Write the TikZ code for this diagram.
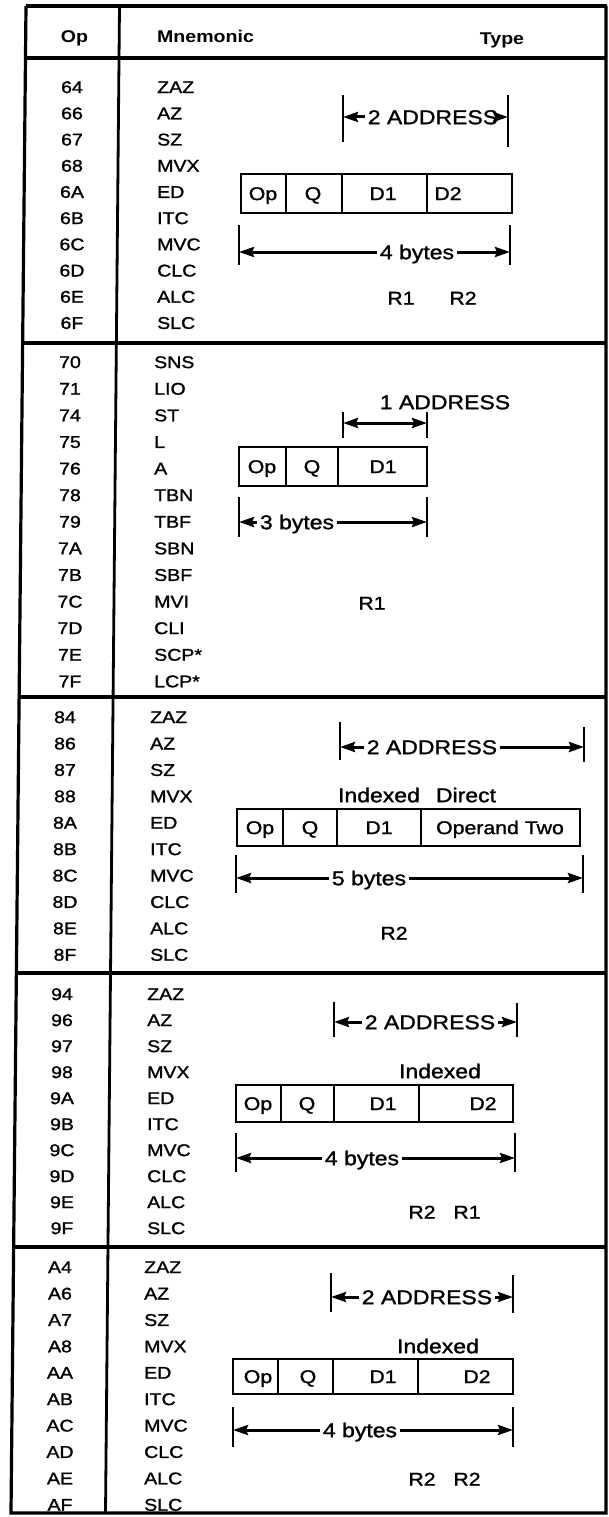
\documentclass[tikz,border=0pt]{standalone}
\usepackage{fontspec}
\setmainfont{Liberation Sans}[FakeStretch=1.15,UprightFeatures={FakeBold=1.3}]
\usetikzlibrary{arrows.meta}

\newcommand{\optabfont}{\fontsize{17}{20}\selectfont}
\newcommand{\dimfont}{\fontsize{20}{24}\selectfont}
\newcommand{\fieldfont}{\fontsize{18.5}{22}\selectfont}

\begin{document}
\begin{tikzpicture}[x=1pt,y=-1pt,
  frame/.style={line width=3.2pt},
  colrule/.style={line width=2.8pt},
  oplbl/.style={font=\optabfont,anchor=base,yshift=-6.1pt,inner sep=0pt},
  mnlbl/.style={font=\optabfont,anchor=base west,yshift=-6.1pt,inner sep=0pt},
  head/.style={font=\optabfont\bfseries,anchor=base,yshift=-6.1pt,inner sep=0pt},
  dimlbl/.style={font=\dimfont,anchor=base,yshift=-7.2pt,inner xsep=3pt,inner ysep=0pt},
  fieldlbl/.style={font=\fieldfont,anchor=base,yshift=-6.6pt,inner sep=0pt},
  reglbl/.style={font=\fieldfont,anchor=base,yshift=-6.6pt,inner sep=0pt},
  fieldbox/.style={line width=2.3pt},
  tickmark/.style={line width=2.2pt},
  dimarrow/.style={line width=3pt,-{Stealth[length=15pt,width=10pt,inset=2pt]}},
  dimboth/.style={line width=3pt,{Stealth[length=15pt,width=10pt,inset=2pt]}-{Stealth[length=15pt,width=10pt,inset=2pt]}}
]
\useasboundingbox (0,0) rectangle (608,1517);

% frame and rules
\draw[frame] (26,6) -- (607,6);
\draw[frame] (26,6) -- (11,1513) -- (606,1513) -- (606,6);
\draw[frame] (25.5,58) -- (606,58);
\draw[frame] (22.6,343) -- (606,343);
\draw[frame] (19.1,697) -- (606,697);
\draw[frame] (16.4,973) -- (606,973);
\draw[frame] (13.6,1247) -- (606,1247);
\draw[colrule] (119.5,6) -- (105.5,1513);

% header
\node[head] (hop) at (74.5,36) {Op};
\node[head,anchor=base west] (hmn) at (157,36) {Mnemonic};
\node[head] (htype) at (502,38) {Type};

% op codes and mnemonics
\foreach \op/\mn [count=\i from 0] in {64/ZAZ,66/AZ,67/SZ,68/MVX,6A/ED,6B/ITC,6C/MVC,6D/CLC,6E/ALC,6F/SLC}{
  \node[oplbl] (op\op) at (72,{87+26.2*\i}) {\op};
  \node[mnlbl] (mn\op) at (157,{87+26.2*\i}) {\mn};
}
\foreach \op/\mn [count=\i from 0] in {70/SNS,71/LIO,74/ST,75/L,76/A,78/TBN,79/TBF,7A/SBN,7B/SBF,7C/MVI,7D/CLI,7E/SCP*,7F/LCP*}{
  \node[oplbl] (op\op) at (70,{362+26.6*\i}) {\op};
  \node[mnlbl] (mn\op) at (154,{362+26.6*\i}) {\mn};
}
\foreach \op/\mn [count=\i from 0] in {84/ZAZ,86/AZ,87/SZ,88/MVX,8A/ED,8B/ITC,8C/MVC,8D/CLC,8E/ALC,8F/SLC}{
  \node[oplbl] (op\op) at (65,{717+26.4*\i}) {\op};
  \node[mnlbl] (mn\op) at (150,{717+26.4*\i}) {\mn};
}
\foreach \op/\mn [count=\i from 0] in {94/ZAZ,96/AZ,97/SZ,98/MVX,9A/ED,9B/ITC,9C/MVC,9D/CLC,9E/ALC,9F/SLC}{
  \node[oplbl] (op\op) at (62,{994+26*\i}) {\op};
  \node[mnlbl] (mn\op) at (147,{994+26*\i}) {\mn};
}
\foreach \op/\mn [count=\i from 0] in {A4/ZAZ,A6/AZ,A7/SZ,A8/MVX,AA/ED,AB/ITC,AC/MVC,AD/CLC,AE/ALC,AF/SLC}{
  \node[oplbl] (op\op) at (60,{1267+26.4*\i}) {\op};
  \node[mnlbl] (mn\op) at (144,{1267+26.4*\i}) {\mn};
}

% type 6x: 2 address, 4 bytes
\draw[tickmark] (343,95) -- (343,142);
\draw[tickmark] (508,95) -- (508,147);
\coordinate (a1l) at (343,117);
\coordinate (a1r) at (508,117);
\node[dimlbl] (addr1) at (433,117) {2 ADDRESS};
\draw[dimarrow] (addr1.west |- a1l) -- (a1l);
\draw[dimarrow] (addr1.east |- a1r) -- (a1r);
\draw[fieldbox] (241,174) rectangle (512,213);
\draw[fieldbox] (286,174) -- (286,213) (342,174) -- (342,213) (427,174) -- (427,213);
\node[fieldlbl] (f1op) at (263,193.5) {Op};
\node[fieldlbl] (f1q) at (313,193.5) {Q};
\node[fieldlbl] (f1da) at (383,193.5) {D1};
\node[fieldlbl] (f1db) at (448,193.5) {D2};
\draw[tickmark] (239,225) -- (239,265);
\draw[tickmark] (510,225) -- (510,265);
\coordinate (b1l) at (239,252);
\coordinate (b1r) at (510,252);
\node[dimlbl] (bytes1) at (417,252) {4 bytes};
\draw[dimarrow] (bytes1.west |- b1l) -- (b1l);
\draw[dimarrow] (bytes1.east |- b1r) -- (b1r);
\node[reglbl] (r1a) at (401,298) {R1};
\node[reglbl] (r1b) at (463,298) {R2};

% type 7x: 1 address, 3 bytes
\node[dimlbl] (addr2) at (445,402) {1 ADDRESS};
\draw[tickmark] (343,412) -- (343,438);
\draw[tickmark] (427,412) -- (427,438);
\coordinate (a2l) at (343,423);
\coordinate (a2r) at (427,423);
\draw[dimboth] (a2l) -- (a2r);
\draw[fieldbox] (239,447) rectangle (427,486);
\draw[fieldbox] (286,447) -- (286,486) (338,447) -- (338,486);
\node[fieldlbl] (f2op) at (262,466.5) {Op};
\node[fieldlbl] (f2q) at (312,466.5) {Q};
\node[fieldlbl] (f2da) at (383,466.5) {D1};
\draw[tickmark] (239,497) -- (239,537);
\draw[tickmark] (427,497) -- (427,537);
\coordinate (b2l) at (239,522);
\coordinate (b2r) at (427,522);
\node[dimlbl] (bytes2) at (297,522) {3 bytes};
\draw[dimarrow] (bytes2.west |- b2l) -- (b2l);
\draw[dimarrow] (bytes2.east |- b2r) -- (b2r);
\node[reglbl] (r2a) at (372,603) {R1};

% type 8x: 2 address, 5 bytes
\draw[tickmark] (340,722) -- (340,760);
\draw[tickmark] (584,727) -- (584,762);
\coordinate (a3l) at (340,747);
\coordinate (a3r) at (584,747);
\node[dimlbl] (addr3) at (432,747) {2 ADDRESS};
\draw[dimarrow] (addr3.west |- a3l) -- (a3l);
\draw[dimarrow] (addr3.east |- a3r) -- (a3r);
\node[dimlbl] (idx3) at (379,795) {Indexed};
\node[dimlbl] (dir3) at (466,795) {Direct};
\draw[fieldbox] (237,809) rectangle (580,846);
\draw[fieldbox] (283,809) -- (283,846) (337,809) -- (337,846) (421,809) -- (421,846);
\node[fieldlbl] (f3op) at (260,827.5) {Op};
\node[fieldlbl] (f3q) at (310,827.5) {Q};
\node[fieldlbl] (f3da) at (379,827.5) {D1};
\node[fieldlbl] (f3two) at (500,827.5) {Operand Two};
\draw[tickmark] (236,855) -- (236,893);
\draw[tickmark] (583,855) -- (583,893);
\coordinate (b3l) at (236,878);
\coordinate (b3r) at (583,878);
\node[dimlbl] (bytes3) at (369,878) {5 bytes};
\draw[dimarrow] (bytes3.west |- b3l) -- (b3l);
\draw[dimarrow] (bytes3.east |- b3r) -- (b3r);
\node[reglbl] (r3a) at (394,933) {R2};

% type 9x: 2 address, 4 bytes
\draw[tickmark] (334,1002) -- (334,1037);
\draw[tickmark] (517,1003) -- (517,1037);
\coordinate (a4l) at (334,1022);
\coordinate (a4r) at (517,1022);
\node[dimlbl] (addr4) at (430,1022) {2 ADDRESS};
\draw[dimarrow] (addr4.west |- a4l) -- (a4l);
\draw[dimarrow] (addr4.east |- a4r) -- (a4r);
\node[dimlbl] (idx4) at (440,1071) {Indexed};
\draw[fieldbox] (236,1085) rectangle (513,1122);
\draw[fieldbox] (281,1085) -- (281,1122) (334,1085) -- (334,1122) (419,1085) -- (419,1122);
\node[fieldlbl] (f4op) at (258,1103.5) {Op};
\node[fieldlbl] (f4q) at (307,1103.5) {Q};
\node[fieldlbl] (f4da) at (383,1103.5) {D1};
\node[fieldlbl] (f4db) at (483,1103.5) {D2};
\draw[tickmark] (236,1133) -- (236,1172);
\draw[tickmark] (515,1133) -- (515,1172);
\coordinate (b4l) at (236,1158);
\coordinate (b4r) at (515,1158);
\node[dimlbl] (bytes4) at (362,1158) {4 bytes};
\draw[dimarrow] (bytes4.west |- b4l) -- (b4l);
\draw[dimarrow] (bytes4.east |- b4r) -- (b4r);
\node[reglbl] (r4a) at (422,1212) {R2};
\node[reglbl] (r4b) at (467,1212) {R1};

% type Ax: 2 address, 4 bytes
\draw[tickmark] (331,1273) -- (331,1312);
\draw[tickmark] (513,1275) -- (513,1313);
\coordinate (a5l) at (331,1297);
\coordinate (a5r) at (513,1297);
\node[dimlbl] (addr5) at (427,1297) {2 ADDRESS};
\draw[dimarrow] (addr5.west |- a5l) -- (a5l);
\draw[dimarrow] (addr5.east |- a5r) -- (a5r);
\node[dimlbl] (idx5) at (438,1346) {Indexed};
\draw[fieldbox] (233,1359) rectangle (513,1394);
\draw[fieldbox] (278,1359) -- (278,1394) (333,1359) -- (333,1394) (418,1359) -- (418,1394);
\node[fieldlbl] (f5op) at (258,1376.5) {Op};
\node[fieldlbl] (f5q) at (308,1376.5) {Q};
\node[fieldlbl] (f5da) at (383,1376.5) {D1};
\node[fieldlbl] (f5db) at (477,1376.5) {D2};
\draw[tickmark] (233,1407) -- (233,1447);
\draw[tickmark] (513,1407) -- (513,1447);
\coordinate (b5l) at (233,1430);
\coordinate (b5r) at (513,1430);
\node[dimlbl] (bytes5) at (360,1430) {4 bytes};
\draw[dimarrow] (bytes5.west |- b5l) -- (b5l);
\draw[dimarrow] (bytes5.east |- b5r) -- (b5r);
\node[reglbl] (r5a) at (422,1479) {R2};
\node[reglbl] (r5b) at (467,1479) {R2};
\end{tikzpicture}
\end{document}
